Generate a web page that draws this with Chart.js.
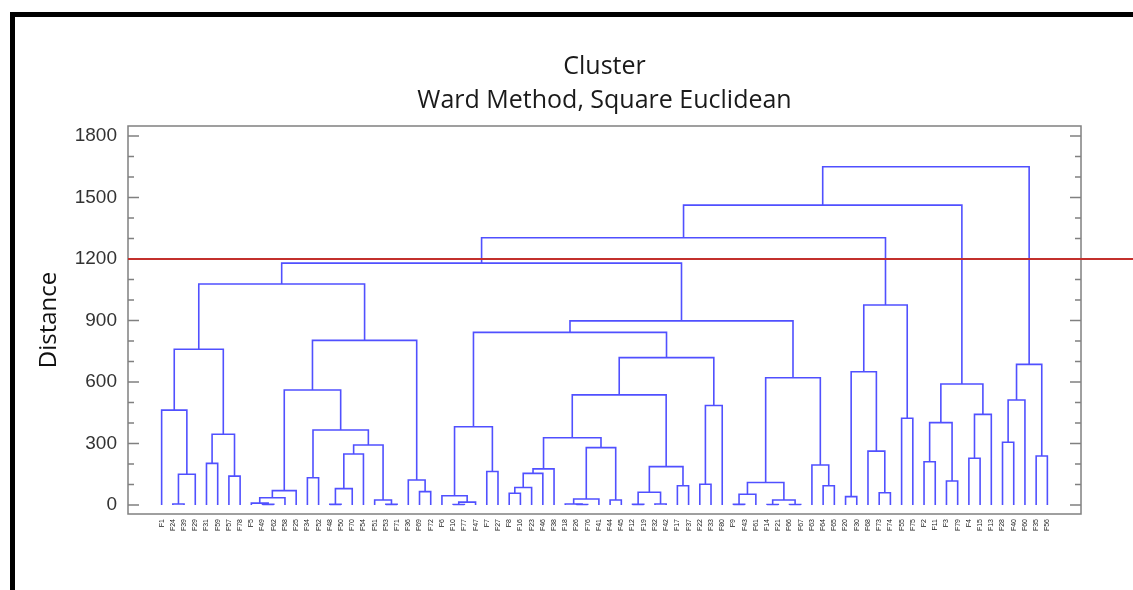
<!DOCTYPE html>
<html><head><meta charset="utf-8">
<script src="https://cdn.jsdelivr.net/npm/chart.js@4"></script>
<style>
html,body{margin:0;padding:0;background:#fff;width:1133px;height:590px;overflow:hidden}
#wrap{position:absolute;left:0;top:0;width:1133px;height:590px}
#frame{position:absolute;left:10px;top:12px;right:0;bottom:0;border-top:5px solid #000;border-left:5px solid #000;pointer-events:none}
</style></head><body>
<div id="wrap"><canvas id="c" width="1133" height="590"></canvas></div>
<div id="frame"></div>
<script>
// Leaf order along the x axis
const leafLabels = ['F1','F24','F39','F29','F31','F59','F57','F78','F5','F49','F62','F58','F25','F34','F52','F48','F50','F70','F54','F51','F53','F71','F36','F69','F72','F6','F10','F77','F47','F7','F27','F8','F16','F23','F46','F38','F18','F26','F76','F41','F44','F45','F12','F19','F32','F42','F17','F37','F22','F33','F80','F9','F43','F61','F14','F21','F66','F67','F63','F64','F65','F20','F30','F68','F73','F74','F55','F75','F2','F11','F3','F79','F4','F15','F13','F28','F40','F60','F35','F56'];
// Merges: [left member, right member, distance]; string = leaf, number = earlier merge index
const merges = [
 ['F24','F39',5],[0,'F29',150],['F1',1,463],['F31','F59',203],['F57','F78',141],[3,4,345],[2,5,760],
 ['F49','F62',3],['F5',7,9],[8,'F58',35],[9,'F25',70],['F34','F52',133],['F48','F50',3],[12,'F70',80],
 [13,'F54',249],['F53','F71',3],['F51',15,24],[14,16,293],[11,17,366],[10,18,561],['F69','F72',65],
 ['F36',20,122],[19,21,803],[6,22,1078],
 ['F10','F77',2],[24,'F47',14],['F6',25,45],['F7','F27',163],[26,27,382],['F8','F16',57],[29,'F23',85],
 [30,'F46',154],[31,'F38',176],['F26','F76',2],['F18',33,5],[34,'F41',29],['F44','F45',24],[35,36,280],
 [32,37,328],['F12','F19',3],['F32','F42',5],[39,40,62],['F17','F37',94],[41,42,187],[38,43,537],
 ['F22','F33',101],[45,'F80',485],[44,46,719],[28,47,842],
 ['F9','F43',3],[49,'F61',52],['F14','F21',2],['F66','F67',2],[51,52,24],[50,53,110],['F64','F65',94],
 ['F63',55,195],[54,56,621],[48,57,898],[23,58,1180],
 ['F20','F30',41],['F73','F74',60],['F68',61,263],[60,62,650],['F55','F75',423],[63,64,976],[59,65,1304],
 ['F2','F11',211],['F3','F79',117],[67,68,402],['F4','F15',228],[70,'F13',442],[69,71,590],[66,72,1463],
 ['F28','F40',306],[74,'F60',512],['F35','F56',239],[75,76,686],[73,77,1650]
];
const yTicks = [0,300,600,900,1200,1500,1800];
const yMinorStep = 100;
const cutHeight = 1200;
const chartTitle = ['Cluster','Ward Method, Square Euclidean'];
const yTitle = 'Distance';

// Build dendrogram segments
const nodeX = [], nodeH = [];
function pos(m){ return typeof m === 'string' ? [leafLabels.indexOf(m), 0] : [nodeX[m], nodeH[m]]; }
const datasets = merges.map(([a,b,h], i) => {
  const [xa, ha] = pos(a), [xb, hb] = pos(b);
  nodeX[i] = (xa + xb) / 2; nodeH[i] = h;
  return {
    data: [{x:xa,y:ha},{x:xa,y:h},{x:xb,y:h},{x:xb,y:hb}],
    borderColor:'#5050ff', borderWidth:1.6, pointRadius:0, fill:false, tension:0
  };
});

const decor = {
  id:'decor',
  afterDatasetsDraw(chart){
    const {ctx, chartArea:a, scales:{y}} = chart;
    ctx.save();
    ctx.strokeStyle = '#808080'; ctx.lineWidth = 1.5;
    for (let v = yTicks[0]; v <= yTicks[yTicks.length-1]; v += yMinorStep){
      const py = y.getPixelForValue(v);
      const len = yTicks.includes(v) ? 11 : 6;
      ctx.beginPath();
      ctx.moveTo(a.left, py); ctx.lineTo(a.left+len, py);
      ctx.moveTo(a.right, py); ctx.lineTo(a.right-len, py);
      ctx.stroke();
    }
    ctx.strokeRect(a.left, a.top, a.right-a.left, a.bottom-a.top);
    const ry = y.getPixelForValue(cutHeight);
    ctx.strokeStyle = '#c3302c'; ctx.lineWidth = 2;
    ctx.beginPath(); ctx.moveTo(a.left, ry); ctx.lineTo(chart.width, ry); ctx.stroke();
    ctx.restore();
  }
};

new Chart(document.getElementById('c'), {
  type:'line',
  data:{datasets},
  plugins:[decor],
  options:{
    responsive:false, animation:false, events:[],
    layout:{padding:{left:0,right:52,top:0,bottom:0}},
    plugins:{
      legend:{display:false}, tooltip:{enabled:false},
      title:{display:true, fullSize:false, text:chartTitle, color:'#1a1a1a',
        font:{family:'Open Sans', size:25, weight:'normal', lineHeight:1.36},
        padding:{top:50,bottom:8}}
    },
    scales:{
      x:{type:'linear', min:-3, max:82,
        grid:{display:false, drawTicks:false}, border:{display:false},
        afterBuildTicks(s){ s.ticks = leafLabels.map((_,i)=>({value:i})); },
        afterFit(s){ s.height = 76; },
        ticks:{autoSkip:false, maxRotation:90, minRotation:90, padding:5, color:'#222',
          font:{family:'Liberation Sans', size:7},
          callback:(v)=> (Number.isInteger(v) && leafLabels[v]) ? leafLabels[v] : ''}
      },
      y:{type:'linear', min:-44, max:1849,
        grid:{display:false, drawTicks:false}, border:{display:false},
        afterBuildTicks(s){ s.ticks = yTicks.map(v=>({value:v})); },
        afterFit(s){ s.width = 128; },
        ticks:{padding:11, color:'#333', font:{family:'Liberation Sans', size:19},
          callback:(v)=> String(v)},
        title:{display:true, text:yTitle, color:'#111', font:{family:'Open Sans', size:24}, padding:{top:35,bottom:0}}
      }
    }
  }
});
</script>
</body></html>
